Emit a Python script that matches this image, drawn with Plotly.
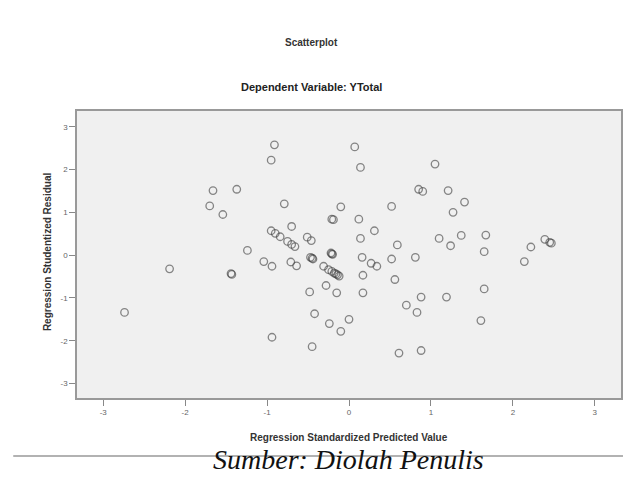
import plotly.graph_objects as go

# Regression Standardized Predicted Value (x) and Studentized Residual (y)
pred = [-0.91, -0.95, 0.07, 0.14, 1.05, -1.66, -1.37, -1.70, -1.54, -0.79,
        -0.10, 0.52, 0.85, 0.90, 1.21, 1.41, 1.27, -0.21, -0.19, 0.12,
        -0.70, 0.31, -0.95, -0.90, -0.84, -0.51, -0.46, -0.75, -0.70, -0.66,
        0.14, 0.59, 1.10, 1.37, 1.67, 1.24, 1.65, 2.22, 2.39, 2.45,
        2.47, 2.14, -1.24, -1.04, -0.94, -0.71, -0.64, -0.47, -0.44, -0.45,
        -0.22, -0.20, -0.21, 0.16, 0.52, 0.81, -2.19, -1.44, -1.43, -0.31,
        -0.25, -0.21, -0.18, -0.16, -0.14, -0.12, 0.27, 0.34, 0.17, 0.56,
        -0.28, -0.48, -0.15, 0.17, 1.65, 0.88, 1.19, 0.70, 0.83, -0.42,
        -2.74, -0.24, 0.00, -0.10, 1.61, -0.94, -0.45, 0.61, 0.88]
resid = [2.58, 2.22, 2.53, 2.05, 2.13, 1.51, 1.54, 1.15, 0.95, 1.20,
         1.13, 1.14, 1.54, 1.49, 1.51, 1.24, 1.00, 0.84, 0.83, 0.84,
         0.67, 0.57, 0.57, 0.51, 0.43, 0.42, 0.34, 0.32, 0.25, 0.20,
         0.39, 0.24, 0.39, 0.46, 0.47, 0.22, 0.08, 0.19, 0.37, 0.30,
         0.28, -0.15, 0.11, -0.15, -0.26, -0.16, -0.25, -0.05, -0.09, -0.07,
         0.05, 0.02, 0.03, -0.05, -0.09, -0.05, -0.32, -0.43, -0.45, -0.26,
         -0.34, -0.38, -0.42, -0.44, -0.46, -0.49, -0.19, -0.26, -0.47, -0.57,
         -0.71, -0.86, -0.88, -0.88, -0.79, -0.98, -0.98, -1.17, -1.34, -1.37,
         -1.34, -1.60, -1.50, -1.78, -1.53, -1.92, -2.14, -2.29, -2.23]

tick_vals = [-3, -2, -1, 0, 1, 2, 3]
tick_text = ["-3", "-2", "-1", "0", "1", "2", "3"]

fig = go.Figure()
fig.add_trace(go.Scatter(
    x=pred, y=resid, mode="markers",
    marker=dict(symbol="circle-open", size=7.5, color="rgba(60,60,60,0.6)",
                line=dict(width=1.3, color="rgba(60,60,60,0.6)")),
    showlegend=False, hoverinfo="skip"))

axis_common = dict(
    tickmode="array", tickvals=tick_vals, ticktext=tick_text,
    ticks="outside", ticklen=6, tickwidth=1, tickcolor="#888",
    tickfont=dict(family="Arial, Liberation Sans, sans-serif", size=8, color="#666"),
    showgrid=False, zeroline=False, showline=True, linecolor="#999", linewidth=1.5,
    mirror=True,
)

PT, PB, PL, PW = 111, 398, 77, 546
PH = PB - PT

fig.update_layout(
    width=625, height=479,
    margin=dict(l=PL, r=2, t=PT, b=479 - PB),
    paper_bgcolor="white", plot_bgcolor="#f0f0f0",
    xaxis=dict(range=[-3.32, 3.32], **axis_common),
    yaxis=dict(range=[-3.34, 3.37], **axis_common),
    font=dict(family="Arial, Liberation Sans, sans-serif"),
)

def px(x):
    return (x - PL) / PW

def py(y):
    return (PB - y) / PH

fig.add_annotation(text="<b>Scatterplot</b>", xref="paper", yref="paper",
                   x=px(312), y=py(42), showarrow=False,
                   font=dict(size=10, color="#333"), yanchor="middle")
fig.add_annotation(text="<b>Dependent Variable: YTotal</b>", xref="paper", yref="paper",
                   x=px(312), y=py(87), showarrow=False,
                   font=dict(size=11, color="#222"), yanchor="middle")
fig.add_annotation(text="<b>Regression Standardized Predicted Value</b>", xref="paper", yref="paper",
                   x=0.5, y=py(437), showarrow=False,
                   font=dict(size=10, color="#333"), yanchor="middle")
fig.add_annotation(text="<b>Regression Studentized Residual</b>", xref="paper", yref="paper",
                   x=px(47), y=py(252), showarrow=False, textangle=-90,
                   font=dict(size=10, color="#333"), xanchor="center", yanchor="middle")
fig.add_annotation(text="<i>Sumber: Diolah Penulis</i>", xref="paper", yref="paper",
                   x=px(349), y=py(459), showarrow=False,
                   font=dict(family="Liberation Serif, Times New Roman, serif", size=28, color="#111"),
                   yanchor="middle")
fig.add_shape(type="line", xref="paper", yref="paper",
              x0=px(13), x1=px(625), y0=py(456), y1=py(456),
              line=dict(color="#999", width=1.5))

fig.write_html("out.html", config={"displayModeBar": False},
               post_script="document.body.style.margin='0';document.body.style.overflow='hidden';")
